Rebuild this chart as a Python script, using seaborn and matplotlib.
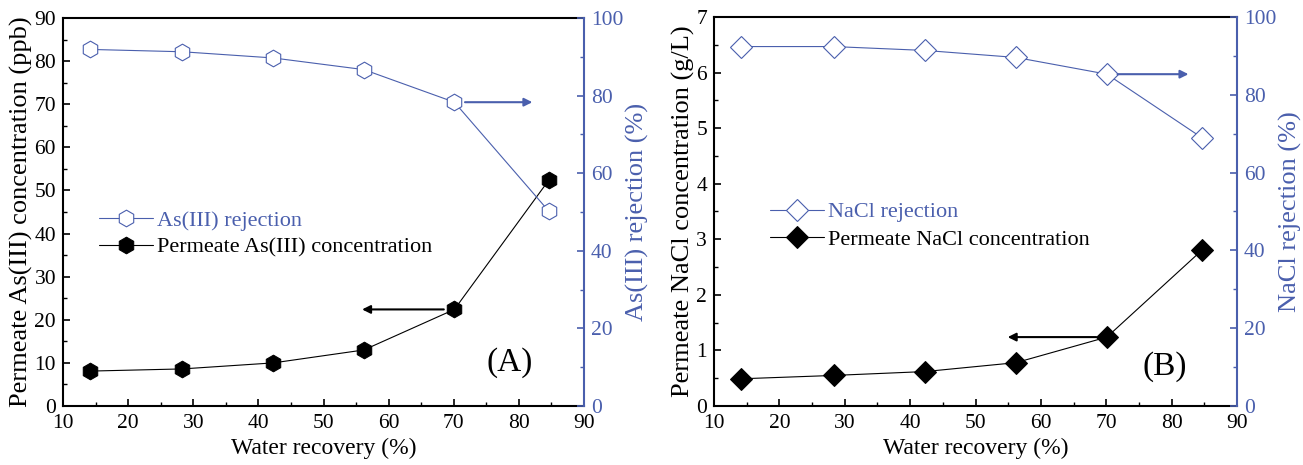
import matplotlib
matplotlib.use("Agg")
import matplotlib.pyplot as plt
import seaborn as sns
import pandas as pd

sns.set_theme(style="white")
plt.rcParams['font.family'] = ['Liberation Serif', 'DejaVu Serif']
plt.rcParams['mathtext.fontset'] = 'stix'

# ---- data ----
recovery_a = [14.2, 28.3, 42.3, 56.2, 70.1, 84.6]
as_conc = [8.1, 8.6, 10.0, 13.0, 22.4, 52.4]
as_rej = [91.9, 91.3, 89.7, 86.7, 78.3, 50.2]

recovery_b = [14.2, 28.3, 42.3, 56.2, 70.1, 84.6]
nacl_conc = [0.49, 0.55, 0.62, 0.78, 1.24, 2.80]
nacl_rej = [92.4, 92.4, 91.4, 89.6, 85.3, 69.0]

x_ticks = [10, 20, 30, 40, 50, 60, 70, 80, 90]
BLUE = "#4A5FAD"
FS = 15.5

fig = plt.figure(figsize=(13.03, 4.65), dpi=100)
axA = fig.add_axes([63/1303, 1-406/465, (584-63)/1303, (406-18)/465])
axB = fig.add_axes([714/1303, 1-406/465, (1237-714)/1303, (406-17)/465])


def panel(ax, x, conc, rej, marker, ms_rej, ms_conc, ylim_l, ymaj_l, ymin_l,
          ylabel_l, ylabel_r, lab_rej, lab_conc, arrow_l_to, arrow_r_to,
          leg_anchor, tag, tag_pos):
    ax2 = ax.twinx()
    df = pd.DataFrame({"x": x, "conc": conc, "rej": rej})
    sns.lineplot(data=df, x="x", y="conc", ax=ax, color="black", lw=0.8,
                 marker=marker, markersize=ms_conc, markerfacecolor="black",
                 markeredgecolor="black", label=lab_conc, legend=False)
    sns.lineplot(data=df, x="x", y="rej", ax=ax2, color=BLUE, lw=0.8,
                 marker=marker, markersize=ms_rej, markerfacecolor="white",
                 markeredgecolor=BLUE, markeredgewidth=0.8, label=lab_rej,
                 legend=False)
    ax.set_xlim(10, 90)
    ax.set_ylim(*ylim_l)
    ax2.set_ylim(0, 100)
    ax.set_xticks(x_ticks)
    ax.set_xticks(range(15, 90, 10), minor=True)
    ax.set_yticks(ymaj_l)
    ax.set_yticks(ymin_l, minor=True)
    ax2.set_yticks([0, 20, 40, 60, 80, 100])
    ax2.set_yticks([10, 30, 50, 70, 90], minor=True)
    ax.tick_params(axis="both", which="both", direction="in", labelsize=FS,
                   colors="black", top=False, right=False, left=True, bottom=True)
    ax.tick_params(which="major", length=5, width=1.2)
    ax.tick_params(which="minor", length=3, width=1.0)
    ax.tick_params(axis="x", which="major", pad=6)
    ax.tick_params(axis="y", which="major", pad=5)
    ax2.tick_params(axis="y", which="both", direction="in", labelsize=FS,
                    colors=BLUE, right=True)
    ax2.tick_params(which="major", length=5, width=1.2, pad=5)
    ax2.tick_params(which="minor", length=3, width=1.0)
    for s in ["left", "bottom", "top"]:
        ax.spines[s].set_color("black")
        ax.spines[s].set_linewidth(1.5)
    ax.spines["right"].set_visible(False)
    for s in ["left", "bottom", "top"]:
        ax2.spines[s].set_visible(False)
    ax2.spines["right"].set_color(BLUE)
    ax2.spines["right"].set_linewidth(1.5)
    ax.set_xlabel("Water recovery (%)", fontsize=17, color="black", labelpad=3)
    ax.set_ylabel(ylabel_l, fontsize=19, color="black", labelpad=1)
    ax2.set_ylabel(ylabel_r, fontsize=19, color=BLUE, labelpad=2)

    # arrows
    ax.annotate("", xy=(arrow_l_to, conc[4]), xytext=(x[4] - 1.2, conc[4]),
                arrowprops=dict(arrowstyle="-|>", color="black", lw=1.5,
                                mutation_scale=12))
    ax2.annotate("", xy=(arrow_r_to, rej[4]), xytext=(x[4] + 1.2, rej[4]),
                 arrowprops=dict(arrowstyle="-|>", color=BLUE, lw=1.5,
                                 mutation_scale=12))

    h1, l1 = ax2.get_legend_handles_labels()
    h2, l2 = ax.get_legend_handles_labels()
    leg = ax2.legend(h1 + h2, l1 + l2, loc="upper left", bbox_to_anchor=leg_anchor,
                     frameon=False, fontsize=16, handlelength=2.4,
                     handletextpad=0.2, labelspacing=0.3, borderaxespad=0,
                     borderpad=0)
    leg.get_texts()[0].set_color(BLUE)
    leg.get_texts()[1].set_color("black")
    ax.text(tag_pos[0], tag_pos[1], tag, transform=ax.transAxes, fontsize=24,
            ha="center", va="center", color="black")


panel(axA, recovery_a, as_conc, as_rej, "h", 12, 12, (0, 90),
      list(range(0, 91, 10)), list(range(5, 90, 10)),
      "Permeate As(III) concentration (ppb)", "As(III) rejection (%)",
      "As(III) rejection", "Permeate As(III) concentration", 55.5, 82.5,
      (0.07, 0.505), "(A)", (0.858, 0.113))

panel(axB, recovery_b, nacl_conc, nacl_rej, "D", 11, 11, (0, 7),
      list(range(0, 8, 1)), [0.5 + i for i in range(7)],
      "Permeate NaCl concentration (g/L)", "NaCl rejection (%)",
      "NaCl rejection", "Permeate NaCl concentration", 54.5, 83.0,
      (0.108, 0.525), "(B)", (0.862, 0.10))

fig.savefig("out.png", dpi=100)
